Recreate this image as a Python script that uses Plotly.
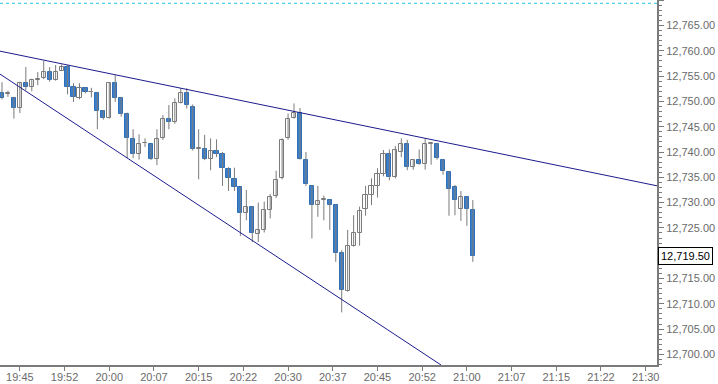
import pandas as pd
import plotly.graph_objects as go

# ---- data (1-minute candles starting 19:42) ----
start_time = "2024-01-02 19:42"
opens = [12751.7, 12751.5, 12750.6, 12748.8, 12753.6, 12752.8, 12754.2, 12754.6, 12755.8, 12754.3,
         12756.1, 12756.9, 12752.8, 12750.7, 12752.6, 12751.8, 12751.6, 12748.1, 12746.8, 12753.6,
         12750.6, 12747.6, 12742.5, 12739.7, 12741.7, 12741.5, 12738.7, 12742.7, 12746.6, 12745.9,
         12749.7, 12751.6, 12748.9, 12740.6, 12740.6, 12738.7, 12740.2, 12739.7, 12736.6, 12734.6,
         12733.0, 12728.0, 12729.2, 12723.7, 12724.6, 12728.5, 12731.3, 12734.8, 12742.7, 12746.8,
         12747.7, 12738.5, 12733.3, 12729.6, 12730.6, 12730.5, 12729.5, 12720.1, 12712.6, 12721.4,
         12723.9, 12728.7, 12731.6, 12733.3, 12735.6, 12739.6, 12735.1, 12740.0, 12741.6, 12737.1,
         12738.5, 12737.7, 12741.6, 12741.6, 12738.5, 12736.1, 12733.1, 12728.7, 12731.1, 12728.5]
highs = [12753.8, 12752.1, 12750.9, 12753.9, 12756.8, 12754.5, 12755.8, 12758.0, 12756.8, 12757.2,
         12757.3, 12757.2, 12753.6, 12753.6, 12752.8, 12752.7, 12751.9, 12748.3, 12753.8, 12755.2,
         12750.9, 12747.8, 12744.5, 12743.5, 12742.7, 12741.6, 12744.5, 12747.3, 12749.3, 12750.6,
         12752.6, 12752.6, 12749.4, 12744.5, 12743.4, 12742.7, 12742.5, 12740.0, 12737.0, 12736.9,
         12733.1, 12732.5, 12729.3, 12730.0, 12730.2, 12731.7, 12736.3, 12742.7, 12747.6, 12749.6,
         12748.7, 12740.0, 12733.4, 12733.3, 12731.4, 12730.6, 12729.6, 12720.6, 12724.6, 12727.5,
         12729.2, 12733.3, 12734.8, 12736.8, 12740.4, 12740.5, 12741.2, 12742.7, 12742.4, 12738.6,
         12740.5, 12742.7, 12741.9, 12741.8, 12738.6, 12736.2, 12733.5, 12732.3, 12731.2, 12730.5]
lows = [12750.4, 12750.9, 12746.6, 12747.7, 12752.2, 12752.0, 12753.2, 12754.4, 12753.9, 12754.1,
        12756.0, 12751.4, 12749.9, 12750.4, 12751.6, 12750.8, 12744.5, 12746.4, 12746.6, 12749.9,
        12747.0, 12738.8, 12738.8, 12738.5, 12741.0, 12738.4, 12737.4, 12742.4, 12744.5, 12745.6,
        12749.6, 12748.6, 12740.3, 12734.6, 12738.4, 12736.4, 12739.0, 12733.3, 12732.3, 12732.3,
        12723.4, 12726.5, 12722.2, 12722.2, 12724.1, 12726.9, 12730.9, 12734.6, 12742.4, 12746.6,
        12738.5, 12733.3, 12722.9, 12727.2, 12726.5, 12724.6, 12718.3, 12708.3, 12712.4, 12721.3,
        12721.5, 12727.4, 12729.5, 12731.0, 12735.2, 12734.4, 12734.8, 12739.0, 12736.4, 12736.5,
        12737.5, 12736.5, 12737.5, 12738.5, 12735.5, 12727.4, 12727.5, 12726.4, 12725.4, 12718.3]
closes = [12750.6, 12751.6, 12748.8, 12753.6, 12752.8, 12754.2, 12754.4, 12755.8, 12754.3, 12755.8,
          12756.9, 12752.8, 12750.9, 12752.6, 12751.9, 12751.9, 12748.1, 12746.8, 12753.6, 12750.7,
          12747.6, 12742.7, 12739.7, 12741.5, 12741.8, 12738.7, 12742.5, 12746.6, 12745.9, 12749.6,
          12751.6, 12749.3, 12740.6, 12740.7, 12738.7, 12740.2, 12739.7, 12736.8, 12734.8, 12733.1,
          12728.0, 12729.2, 12723.9, 12724.6, 12728.5, 12731.1, 12734.5, 12742.4, 12746.6, 12747.7,
          12738.7, 12733.6, 12729.6, 12730.4, 12730.7, 12729.6, 12720.1, 12712.7, 12721.4, 12723.9,
          12728.4, 12731.5, 12733.3, 12735.6, 12739.6, 12735.1, 12740.4, 12741.6, 12737.1, 12738.5,
          12737.7, 12741.6, 12741.7, 12738.9, 12736.2, 12732.6, 12730.5, 12731.2, 12728.7, 12719.5]

last_price = 12719.50
dotted_level = 12769.4

# trend lines: (time, price) endpoints
upper_line_t = ["2024-01-02 19:41:40", "2024-01-02 21:31:54"]
upper_line_p = [12759.94, 12733.32]
lower_line_t = ["2024-01-02 19:41:40", "2024-01-02 20:55:40"]
lower_line_p = [12755.4, 12697.9]

tick_start = "2024-01-02 19:45"
n_ticks = 15
x_range = ["2024-01-02 19:41:40", "2024-01-02 21:31:54"]
y_range = [12697.9, 12770.05]
y_tick_step = 5

times = pd.date_range(start_time, periods=len(opens), freq="1min")
tick_vals = pd.date_range(tick_start, periods=n_ticks, freq="450s")
tick_text = [t.strftime("%H:%M") for t in tick_vals]
y_ticks = [v for v in range(12700, 12771, y_tick_step) if abs(v - last_price) > 2]

GRAY = "#7a7a7a"
BLUE = "#3b7fcb"
BLUE_EDGE = "#2f6fb8"
NAVY = "#1c1c8e"
FONT = "Liberation Sans"

# wicks (high-low) as one gray line trace with breaks
wick_x, wick_y = [], []
for t, h, l in zip(times, highs, lows):
    wick_x += [t, t, None]
    wick_y += [h, l, None]

is_up = [c >= o for o, c in zip(opens, closes)]
body_base = [min(o, c) for o, c in zip(opens, closes)]
body_h = [max(abs(c - o), 0.08) for o, c in zip(opens, closes)]
body_fill = ["white" if u else BLUE for u in is_up]
body_edge = [GRAY if u else BLUE_EDGE for u in is_up]

fig = go.Figure()
fig.add_trace(go.Scatter(x=wick_x, y=wick_y, mode="lines",
                         line=dict(color=GRAY, width=1), showlegend=False, hoverinfo="skip"))
fig.add_trace(go.Bar(x=times, y=body_h, base=body_base, width=42000,
                     marker=dict(color=body_fill, line=dict(color=body_edge, width=1)),
                     showlegend=False, hoverinfo="skip"))
fig.add_trace(go.Scatter(x=upper_line_t, y=upper_line_p, mode="lines",
                         line=dict(color=NAVY, width=1), showlegend=False, hoverinfo="skip"))
fig.add_trace(go.Scatter(x=lower_line_t, y=lower_line_p, mode="lines",
                         line=dict(color=NAVY, width=1), showlegend=False, hoverinfo="skip"))
fig.add_trace(go.Scatter(x=x_range, y=[dotted_level, dotted_level], mode="lines",
                         line=dict(color="#22c4e6", width=1, dash="dot"),
                         showlegend=False, hoverinfo="skip"))

fig.add_annotation(x=1, xref="paper", xanchor="left", xshift=1,
                   y=last_price, yref="y", text=f"{last_price:,.2f}",
                   showarrow=False, bgcolor="white", bordercolor="black", borderwidth=1,
                   borderpad=2, font=dict(family=FONT, size=11, color="black"))

fig.update_layout(
    width=718, height=384,
    margin=dict(l=0, r=61, t=0, b=19, autoexpand=False),
    paper_bgcolor="white", plot_bgcolor="white",
    font=dict(family=FONT, size=11, color="#6a6a6a"),
    showlegend=False, bargap=0,
    xaxis=dict(range=x_range, type="date",
               tickvals=tick_vals, ticktext=tick_text, ticks="outside", ticklen=4,
               ticklabelstandoff=-3,
               tickcolor=GRAY, showline=True, linecolor=GRAY, linewidth=2,
               showgrid=False, zeroline=False, automargin=False),
    yaxis=dict(range=y_range, side="right", tickvals=y_ticks, tickformat=",.2f",
               ticks="outside", ticklen=5, tickcolor=GRAY,
               minor=dict(dtick=1, ticks="outside", ticklen=3, tickcolor=GRAY),
               showline=True, linecolor=GRAY, linewidth=2,
               showgrid=False, zeroline=False, automargin=False),
)

fig.write_html("out.html", config={"displayModeBar": False},
               post_script="document.body.style.margin='0';")
